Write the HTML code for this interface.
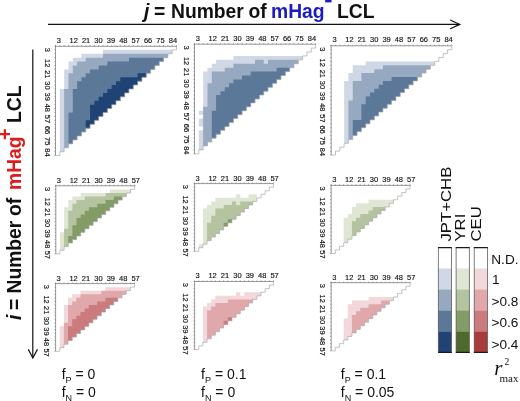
<!DOCTYPE html>
<html><head><meta charset="utf-8">
<style>
html,body{margin:0;padding:0;background:#fff;}
body{width:520px;height:401px;overflow:hidden;position:relative;}
svg{position:absolute;left:0;top:0;filter:blur(0.35px);}
.tl{font-family:"Liberation Sans",sans-serif;font-weight:normal;font-size:7.2px;fill:#111;stroke:#111;stroke-width:0.15px;text-anchor:middle;dominant-baseline:central;}
.tt{font-family:"Liberation Sans",sans-serif;font-weight:bold;font-size:19.3px;fill:#111;}
.lg{font-family:"Liberation Sans",sans-serif;font-size:14.7px;fill:#111;}
.ll{font-family:"Liberation Sans",sans-serif;font-size:13.6px;fill:#111;}
.fb{font-family:"Liberation Sans",sans-serif;font-size:14px;fill:#111;}
.fs{font-family:"Liberation Sans",sans-serif;font-size:9px;fill:#111;}
.rr{font-family:"Liberation Serif",serif;font-style:italic;fill:#111;}
</style></head><body>
<svg width="520" height="401" viewBox="0 0 520 401">
<!-- top title -->
<line x1="48" y1="24.4" x2="459.5" y2="24.4" stroke="#111" stroke-width="1.2"/>
<polyline points="450.2,20 459.8,24.4 450.2,28.8" fill="none" stroke="#111" stroke-width="1.2"/>
<text class="tt" x="144" y="17.8" font-style="italic">j</text>
<text class="tt" x="154" y="17.8">=</text>
<text class="tt" x="171" y="17.8">Number</text>
<text class="tt" x="248.5" y="17.8">of</text>
<text class="tt" x="271" y="17.8" style="fill:#1b1bc0">mHag</text>
<text class="tt" x="337" y="17.8">LCL</text>
<rect x="325.2" y="0" width="6.3" height="2.4" fill="#1b1bc0"/>
<!-- left title -->
<line x1="32.8" y1="49.5" x2="32.8" y2="357.5" stroke="#111" stroke-width="1.2"/>
<polyline points="28.3,349.4 32.8,358 37.5,349.4" fill="none" stroke="#111" stroke-width="1.2"/>
<g transform="translate(20.6 0) rotate(-90)">
<text class="tt" x="-320" y="0" font-style="italic">i</text>
<text class="tt" x="-310" y="0">=</text>
<text class="tt" x="-293.5" y="0">Number</text>
<text class="tt" x="-216" y="0">of</text>
<text class="tt" x="-190" y="0" style="fill:#e01b1b">mHag</text>
<text class="tt" x="-140" y="-8.3" style="fill:#e01b1b;font-size:20px">+</text>
<text class="tt" x="-123" y="0">LCL</text>
</g>
<path d="M103.04 49.82H172.18V53.74H103.04ZM81.43 53.74H167.86V57.65H81.43ZM72.79 57.65H163.54V61.57H72.79ZM68.46 61.57H159.21V65.49H68.46ZM68.46 65.49H154.89V69.41H68.46ZM64.14 69.41H150.57V73.32H64.14ZM64.14 73.32H146.25V77.24H64.14ZM64.14 77.24H141.93V81.16H64.14ZM64.14 81.16H137.61V85.08H64.14ZM64.14 85.08H133.29V89.00H64.14ZM59.82 89.00H128.96V92.91H59.82ZM59.82 92.91H124.64V96.83H59.82ZM59.82 96.83H120.32V100.75H59.82ZM59.82 100.75H116.00V104.67H59.82ZM59.82 104.67H111.68V108.59H59.82ZM59.82 108.59H107.36V112.50H59.82ZM59.82 112.50H103.04V116.42H59.82ZM59.82 116.42H98.71V120.34H59.82ZM59.82 120.34H94.39V124.26H59.82ZM59.82 124.26H90.07V128.17H59.82ZM59.82 128.17H85.75V132.09H59.82ZM59.82 132.09H81.43V136.01H59.82ZM59.82 136.01H77.11V139.93H59.82ZM59.82 139.93H72.79V143.85H59.82ZM59.82 143.85H68.46V147.76H59.82ZM59.82 147.76H64.14V151.68H59.82Z" fill="#cfd8e4"/>
<path d="M103.04 53.74H167.86V57.65H103.04ZM85.75 57.65H163.54V61.57H85.75ZM77.11 61.57H159.21V65.49H77.11ZM72.79 65.49H154.89V69.41H72.79ZM72.79 69.41H150.57V73.32H72.79ZM68.46 73.32H146.25V77.24H68.46ZM68.46 77.24H141.93V81.16H68.46ZM68.46 81.16H137.61V85.08H68.46ZM68.46 85.08H133.29V89.00H68.46ZM64.14 89.00H128.96V92.91H64.14ZM64.14 92.91H124.64V96.83H64.14ZM64.14 96.83H120.32V100.75H64.14ZM64.14 100.75H116.00V104.67H64.14ZM64.14 104.67H111.68V108.59H64.14ZM64.14 108.59H107.36V112.50H64.14ZM64.14 112.50H103.04V116.42H64.14ZM64.14 116.42H98.71V120.34H64.14ZM64.14 120.34H94.39V124.26H64.14ZM64.14 124.26H90.07V128.17H64.14ZM64.14 128.17H85.75V132.09H64.14ZM64.14 132.09H81.43V136.01H64.14ZM64.14 136.01H77.11V139.93H64.14ZM64.14 139.93H72.79V143.85H64.14ZM64.14 143.85H68.46V147.76H64.14Z" fill="#97a9c1"/>
<path d="M128.96 57.65H163.54V61.57H128.96ZM107.36 61.57H159.21V65.49H107.36ZM98.71 65.49H154.89V69.41H98.71ZM90.07 69.41H150.57V73.32H90.07ZM85.75 73.32H146.25V77.24H85.75ZM81.43 77.24H141.93V81.16H81.43ZM77.11 81.16H137.61V85.08H77.11ZM77.11 85.08H133.29V89.00H77.11ZM72.79 89.00H128.96V92.91H72.79ZM72.79 92.91H124.64V96.83H72.79ZM72.79 96.83H120.32V100.75H72.79ZM72.79 100.75H116.00V104.67H72.79ZM72.79 104.67H111.68V108.59H72.79ZM72.79 108.59H107.36V112.50H72.79ZM68.46 112.50H103.04V116.42H68.46ZM68.46 116.42H98.71V120.34H68.46ZM68.46 120.34H94.39V124.26H68.46ZM68.46 124.26H90.07V128.17H68.46ZM68.46 128.17H85.75V132.09H68.46ZM68.46 132.09H81.43V136.01H68.46ZM68.46 136.01H77.11V139.93H68.46ZM68.46 139.93H72.79V143.85H68.46Z" fill="#5c7898"/>
<path d="M137.61 73.32H146.25V77.24H137.61ZM120.32 77.24H141.93V81.16H120.32ZM116.00 81.16H137.61V85.08H116.00ZM111.68 85.08H133.29V89.00H111.68ZM107.36 89.00H128.96V92.91H107.36ZM103.04 92.91H124.64V96.83H103.04ZM98.71 96.83H120.32V100.75H98.71ZM94.39 100.75H116.00V104.67H94.39ZM90.07 104.67H111.68V108.59H90.07ZM90.07 108.59H107.36V112.50H90.07ZM90.07 112.50H103.04V116.42H90.07ZM90.07 116.42H98.71V120.34H90.07ZM85.75 120.34H94.39V124.26H85.75ZM85.75 124.26H90.07V128.17H85.75Z" fill="#1e4374"/>
<polyline points="176.50,45.90 176.50,49.82 172.18,49.82 172.18,53.74 167.86,53.74 167.86,57.65 163.54,57.65 163.54,61.57 159.21,61.57 159.21,65.49 154.89,65.49 154.89,69.41 150.57,69.41 150.57,73.32 146.25,73.32 146.25,77.24 141.93,77.24 141.93,81.16 137.61,81.16 137.61,85.08 133.29,85.08 133.29,89.00 128.96,89.00 128.96,92.91 124.64,92.91 124.64,96.83 120.32,96.83 120.32,100.75 116.00,100.75 116.00,104.67 111.68,104.67 111.68,108.59 107.36,108.59 107.36,112.50 103.04,112.50 103.04,116.42 98.71,116.42 98.71,120.34 94.39,120.34 94.39,124.26 90.07,124.26 90.07,128.17 85.75,128.17 85.75,132.09 81.43,132.09 81.43,136.01 77.11,136.01 77.11,139.93 72.79,139.93 72.79,143.85 68.46,143.85 68.46,147.76 64.14,147.76 64.14,151.68 59.82,151.68 59.82,155.60 55.50,155.60" fill="none" stroke="#ababab" stroke-width="0.7"/>
<line x1="55.00" y1="46.30" x2="176.50" y2="46.30" stroke="#8c8c8c" stroke-width="0.9"/>
<line x1="55.50" y1="45.40" x2="55.50" y2="155.60" stroke="#8c8c8c" stroke-width="0.9"/>
<path d="M55.50 46.30v-1.2M55.50 45.90h-1.2M59.82 46.30v-1.2M55.50 49.82h-1.2M64.14 46.30v-1.2M55.50 53.74h-1.2M68.46 46.30v-1.2M55.50 57.65h-1.2M72.79 46.30v-1.2M55.50 61.57h-1.2M77.11 46.30v-1.2M55.50 65.49h-1.2M81.43 46.30v-1.2M55.50 69.41h-1.2M85.75 46.30v-1.2M55.50 73.32h-1.2M90.07 46.30v-1.2M55.50 77.24h-1.2M94.39 46.30v-1.2M55.50 81.16h-1.2M98.71 46.30v-1.2M55.50 85.08h-1.2M103.04 46.30v-1.2M55.50 89.00h-1.2M107.36 46.30v-1.2M55.50 92.91h-1.2M111.68 46.30v-1.2M55.50 96.83h-1.2M116.00 46.30v-1.2M55.50 100.75h-1.2M120.32 46.30v-1.2M55.50 104.67h-1.2M124.64 46.30v-1.2M55.50 108.59h-1.2M128.96 46.30v-1.2M55.50 112.50h-1.2M133.29 46.30v-1.2M55.50 116.42h-1.2M137.61 46.30v-1.2M55.50 120.34h-1.2M141.93 46.30v-1.2M55.50 124.26h-1.2M146.25 46.30v-1.2M55.50 128.17h-1.2M150.57 46.30v-1.2M55.50 132.09h-1.2M154.89 46.30v-1.2M55.50 136.01h-1.2M159.21 46.30v-1.2M55.50 139.93h-1.2M163.54 46.30v-1.2M55.50 143.85h-1.2M167.86 46.30v-1.2M55.50 147.76h-1.2M172.18 46.30v-1.2M55.50 151.68h-1.2M176.50 46.30v-1.2M55.50 155.60h-1.2" stroke="#777" stroke-width="0.6" fill="none"/>
<text transform="translate(58.90 40.30) scale(1.04 1)" class="tl">3</text>
<text transform="translate(47.00 49.70) rotate(90) scale(1.04 1)" class="tl">3</text>
<text transform="translate(73.70 40.30) scale(1.04 1)" class="tl">12</text>
<text transform="translate(47.00 63.20) rotate(90) scale(1.04 1)" class="tl">12</text>
<text transform="translate(86.10 40.30) scale(1.04 1)" class="tl">21</text>
<text transform="translate(47.00 74.35) rotate(90) scale(1.04 1)" class="tl">21</text>
<text transform="translate(98.50 40.30) scale(1.04 1)" class="tl">30</text>
<text transform="translate(47.00 85.50) rotate(90) scale(1.04 1)" class="tl">30</text>
<text transform="translate(110.90 40.30) scale(1.04 1)" class="tl">39</text>
<text transform="translate(47.00 96.65) rotate(90) scale(1.04 1)" class="tl">39</text>
<text transform="translate(123.30 40.30) scale(1.04 1)" class="tl">48</text>
<text transform="translate(47.00 107.80) rotate(90) scale(1.04 1)" class="tl">48</text>
<text transform="translate(135.70 40.30) scale(1.04 1)" class="tl">57</text>
<text transform="translate(47.00 118.95) rotate(90) scale(1.04 1)" class="tl">57</text>
<text transform="translate(148.10 40.30) scale(1.04 1)" class="tl">66</text>
<text transform="translate(47.00 130.10) rotate(90) scale(1.04 1)" class="tl">66</text>
<text transform="translate(160.50 40.30) scale(1.04 1)" class="tl">75</text>
<text transform="translate(47.00 141.25) rotate(90) scale(1.04 1)" class="tl">75</text>
<text transform="translate(172.90 40.30) scale(1.04 1)" class="tl">84</text>
<text transform="translate(47.00 152.40) rotate(90) scale(1.04 1)" class="tl">84</text>
<path d="M233.43 55.94H302.62V59.86H233.43ZM216.12 59.86H298.30V63.77H216.12ZM211.80 63.77H293.98V67.69H211.80ZM207.47 67.69H289.65V71.60H207.47ZM203.15 71.60H285.33V75.51H203.15ZM203.15 75.51H281.00V79.43H203.15ZM203.15 79.43H276.68V83.34H203.15ZM203.15 83.34H272.35V87.26H203.15ZM203.15 87.26H268.03V91.17H203.15ZM203.15 91.17H263.70V95.09H203.15ZM203.15 95.09H259.38V99.00H203.15ZM203.15 99.00H255.05V102.91H203.15ZM203.15 102.91H250.73V106.83H203.15ZM203.15 106.83H246.40V110.74H203.15ZM198.82 110.74H242.08V114.66H198.82ZM203.15 114.66H237.75V118.57H203.15ZM198.82 118.57H233.43V122.49H198.82ZM198.82 122.49H229.10V126.40H198.82ZM203.15 126.40H224.78V130.31H203.15ZM198.82 130.31H220.45V134.23H198.82ZM198.82 134.23H216.12V138.14H198.82ZM198.82 138.14H211.80V142.06H198.82ZM198.82 142.06H207.47V145.97H198.82ZM198.82 145.97H203.15V149.89H198.82Z" fill="#cfd8e4"/>
<path d="M255.05 59.86H263.70V63.77H255.05ZM268.03 59.86H298.30V63.77H268.03ZM233.43 63.77H293.98V67.69H233.43ZM224.78 67.69H289.65V71.60H224.78ZM211.80 71.60H285.33V75.51H211.80ZM211.80 75.51H281.00V79.43H211.80ZM211.80 79.43H276.68V83.34H211.80ZM207.47 83.34H272.35V87.26H207.47ZM207.47 87.26H268.03V91.17H207.47ZM207.47 91.17H263.70V95.09H207.47ZM207.47 95.09H259.38V99.00H207.47ZM207.47 99.00H255.05V102.91H207.47ZM207.47 102.91H250.73V106.83H207.47ZM203.15 106.83H246.40V110.74H203.15ZM203.15 110.74H242.08V114.66H203.15ZM203.15 114.66H237.75V118.57H203.15ZM203.15 118.57H233.43V122.49H203.15ZM203.15 122.49H229.10V126.40H203.15ZM203.15 126.40H224.78V130.31H203.15ZM203.15 130.31H220.45V134.23H203.15ZM203.15 134.23H216.12V138.14H203.15ZM203.15 138.14H211.80V142.06H203.15ZM203.15 142.06H207.47V145.97H203.15Z" fill="#97a9c1"/>
<path d="M276.68 67.69H289.65V71.60H276.68ZM250.73 71.60H285.33V75.51H250.73ZM242.08 75.51H281.00V79.43H242.08ZM233.43 79.43H276.68V83.34H233.43ZM229.10 83.34H272.35V87.26H229.10ZM224.78 87.26H268.03V91.17H224.78ZM220.45 91.17H263.70V95.09H220.45ZM216.12 95.09H259.38V99.00H216.12ZM216.12 99.00H255.05V102.91H216.12ZM216.12 102.91H250.73V106.83H216.12ZM216.12 106.83H246.40V110.74H216.12ZM211.80 110.74H242.08V114.66H211.80ZM211.80 114.66H237.75V118.57H211.80ZM211.80 118.57H233.43V122.49H211.80ZM211.80 122.49H229.10V126.40H211.80ZM211.80 126.40H224.78V130.31H211.80ZM211.80 130.31H220.45V134.23H211.80ZM211.80 134.23H216.12V138.14H211.80Z" fill="#5c7898"/>
<polyline points="315.60,44.20 315.60,48.11 311.28,48.11 311.28,52.03 306.95,52.03 306.95,55.94 302.63,55.94 302.62,59.86 298.30,59.86 298.30,63.77 293.98,63.77 293.98,67.69 289.65,67.69 289.65,71.60 285.33,71.60 285.33,75.51 281.00,75.51 281.00,79.43 276.68,79.43 276.68,83.34 272.35,83.34 272.35,87.26 268.03,87.26 268.03,91.17 263.70,91.17 263.70,95.09 259.38,95.09 259.38,99.00 255.05,99.00 255.05,102.91 250.73,102.91 250.73,106.83 246.40,106.83 246.40,110.74 242.08,110.74 242.08,114.66 237.75,114.66 237.75,118.57 233.43,118.57 233.43,122.49 229.10,122.49 229.10,126.40 224.78,126.40 224.78,130.31 220.45,130.31 220.45,134.23 216.13,134.23 216.12,138.14 211.80,138.14 211.80,142.06 207.48,142.06 207.47,145.97 203.15,145.97 203.15,149.89 198.83,149.89 198.82,153.80 194.50,153.80" fill="none" stroke="#ababab" stroke-width="0.7"/>
<line x1="194.00" y1="44.20" x2="315.60" y2="44.20" stroke="#8c8c8c" stroke-width="0.9"/>
<line x1="194.50" y1="43.70" x2="194.50" y2="153.80" stroke="#8c8c8c" stroke-width="0.9"/>
<path d="M194.50 44.20v-1.2M194.50 44.20h-1.2M198.82 44.20v-1.2M194.50 48.11h-1.2M203.15 44.20v-1.2M194.50 52.03h-1.2M207.47 44.20v-1.2M194.50 55.94h-1.2M211.80 44.20v-1.2M194.50 59.86h-1.2M216.12 44.20v-1.2M194.50 63.77h-1.2M220.45 44.20v-1.2M194.50 67.69h-1.2M224.78 44.20v-1.2M194.50 71.60h-1.2M229.10 44.20v-1.2M194.50 75.51h-1.2M233.43 44.20v-1.2M194.50 79.43h-1.2M237.75 44.20v-1.2M194.50 83.34h-1.2M242.08 44.20v-1.2M194.50 87.26h-1.2M246.40 44.20v-1.2M194.50 91.17h-1.2M250.73 44.20v-1.2M194.50 95.09h-1.2M255.05 44.20v-1.2M194.50 99.00h-1.2M259.38 44.20v-1.2M194.50 102.91h-1.2M263.70 44.20v-1.2M194.50 106.83h-1.2M268.03 44.20v-1.2M194.50 110.74h-1.2M272.35 44.20v-1.2M194.50 114.66h-1.2M276.68 44.20v-1.2M194.50 118.57h-1.2M281.00 44.20v-1.2M194.50 122.49h-1.2M285.33 44.20v-1.2M194.50 126.40h-1.2M289.65 44.20v-1.2M194.50 130.31h-1.2M293.98 44.20v-1.2M194.50 134.23h-1.2M298.30 44.20v-1.2M194.50 138.14h-1.2M302.62 44.20v-1.2M194.50 142.06h-1.2M306.95 44.20v-1.2M194.50 145.97h-1.2M311.28 44.20v-1.2M194.50 149.89h-1.2M315.60 44.20v-1.2M194.50 153.80h-1.2" stroke="#777" stroke-width="0.6" fill="none"/>
<text transform="translate(197.90 38.20) scale(1.04 1)" class="tl">3</text>
<text transform="translate(186.00 47.60) rotate(90) scale(1.04 1)" class="tl">3</text>
<text transform="translate(212.70 38.20) scale(1.04 1)" class="tl">12</text>
<text transform="translate(186.00 61.10) rotate(90) scale(1.04 1)" class="tl">12</text>
<text transform="translate(225.10 38.20) scale(1.04 1)" class="tl">21</text>
<text transform="translate(186.00 72.25) rotate(90) scale(1.04 1)" class="tl">21</text>
<text transform="translate(237.50 38.20) scale(1.04 1)" class="tl">30</text>
<text transform="translate(186.00 83.40) rotate(90) scale(1.04 1)" class="tl">30</text>
<text transform="translate(249.90 38.20) scale(1.04 1)" class="tl">39</text>
<text transform="translate(186.00 94.55) rotate(90) scale(1.04 1)" class="tl">39</text>
<text transform="translate(262.30 38.20) scale(1.04 1)" class="tl">48</text>
<text transform="translate(186.00 105.70) rotate(90) scale(1.04 1)" class="tl">48</text>
<text transform="translate(274.70 38.20) scale(1.04 1)" class="tl">57</text>
<text transform="translate(186.00 116.85) rotate(90) scale(1.04 1)" class="tl">57</text>
<text transform="translate(287.10 38.20) scale(1.04 1)" class="tl">66</text>
<text transform="translate(186.00 128.00) rotate(90) scale(1.04 1)" class="tl">66</text>
<text transform="translate(299.50 38.20) scale(1.04 1)" class="tl">75</text>
<text transform="translate(186.00 139.15) rotate(90) scale(1.04 1)" class="tl">75</text>
<text transform="translate(311.90 38.20) scale(1.04 1)" class="tl">84</text>
<text transform="translate(186.00 150.30) rotate(90) scale(1.04 1)" class="tl">84</text>
<path d="M365.69 61.40H434.66V65.30H365.69ZM352.75 65.30H430.35V69.20H352.75ZM352.75 69.20H426.04V73.10H352.75ZM348.44 73.10H421.72V77.00H348.44ZM348.44 77.00H417.41V80.90H348.44ZM344.13 80.90H413.10V84.80H344.13ZM344.13 84.80H408.79V88.70H344.13ZM344.13 88.70H404.48V92.60H344.13ZM344.13 92.60H400.17V96.50H344.13ZM344.13 96.50H395.86V100.40H344.13ZM344.13 100.40H391.55V104.30H344.13ZM344.13 104.30H387.24V108.20H344.13ZM344.13 108.20H382.93V112.10H344.13ZM344.13 112.10H378.62V116.00H344.13ZM344.13 116.00H374.31V119.90H344.13ZM344.13 119.90H370.00V123.80H344.13ZM344.13 123.80H365.69V127.70H344.13ZM344.13 127.70H361.38V131.60H344.13ZM344.13 131.60H357.06V135.50H344.13ZM344.13 135.50H352.75V139.40H344.13ZM344.13 139.40H348.44V143.30H344.13Z" fill="#cfd8e4"/>
<path d="M382.93 65.30H430.35V69.20H382.93ZM374.31 69.20H426.04V73.10H374.31ZM361.38 73.10H421.72V77.00H361.38ZM361.38 77.00H417.41V80.90H361.38ZM352.75 80.90H413.10V84.80H352.75ZM352.75 84.80H408.79V88.70H352.75ZM352.75 88.70H404.48V92.60H352.75ZM352.75 92.60H400.17V96.50H352.75ZM352.75 96.50H395.86V100.40H352.75ZM348.44 100.40H391.55V104.30H348.44ZM348.44 104.30H387.24V108.20H348.44ZM348.44 108.20H382.93V112.10H348.44ZM348.44 112.10H378.62V116.00H348.44ZM348.44 116.00H374.31V119.90H348.44ZM348.44 119.90H370.00V123.80H348.44ZM348.44 123.80H365.69V127.70H348.44ZM348.44 127.70H361.38V131.60H348.44ZM348.44 131.60H357.06V135.50H348.44ZM348.44 135.50H352.75V139.40H348.44Z" fill="#97a9c1"/>
<path d="M391.55 77.00H417.41V80.90H391.55ZM382.93 80.90H413.10V84.80H382.93ZM378.62 84.80H408.79V88.70H378.62ZM374.31 88.70H404.48V92.60H374.31ZM370.00 92.60H400.17V96.50H370.00ZM365.69 96.50H395.86V100.40H365.69ZM365.69 100.40H391.55V104.30H365.69ZM361.38 104.30H387.24V108.20H361.38ZM361.38 108.20H382.93V112.10H361.38ZM361.38 112.10H378.62V116.00H361.38ZM361.38 116.00H374.31V119.90H361.38ZM352.75 119.90H370.00V123.80H352.75ZM352.75 123.80H365.69V127.70H352.75ZM352.75 127.70H361.38V131.60H352.75ZM352.75 131.60H357.06V135.50H352.75Z" fill="#5c7898"/>
<polyline points="451.90,45.80 451.90,49.70 447.59,49.70 447.59,53.60 443.28,53.60 443.28,57.50 438.97,57.50 438.97,61.40 434.66,61.40 434.66,65.30 430.35,65.30 430.35,69.20 426.04,69.20 426.04,73.10 421.72,73.10 421.72,77.00 417.41,77.00 417.41,80.90 413.10,80.90 413.10,84.80 408.79,84.80 408.79,88.70 404.48,88.70 404.48,92.60 400.17,92.60 400.17,96.50 395.86,96.50 395.86,100.40 391.55,100.40 391.55,104.30 387.24,104.30 387.24,108.20 382.93,108.20 382.93,112.10 378.62,112.10 378.62,116.00 374.31,116.00 374.31,119.90 370.00,119.90 370.00,123.80 365.69,123.80 365.69,127.70 361.37,127.70 361.38,131.60 357.06,131.60 357.06,135.50 352.75,135.50 352.75,139.40 348.44,139.40 348.44,143.30 344.13,143.30 344.13,147.20 339.82,147.20 339.82,151.10 335.51,151.10 335.51,155.00 331.20,155.00" fill="none" stroke="#ababab" stroke-width="0.7"/>
<line x1="330.70" y1="45.80" x2="451.90" y2="45.80" stroke="#8c8c8c" stroke-width="0.9"/>
<line x1="331.20" y1="45.30" x2="331.20" y2="155.00" stroke="#8c8c8c" stroke-width="0.9"/>
<path d="M331.20 45.80v-1.2M331.20 45.80h-1.2M335.51 45.80v-1.2M331.20 49.70h-1.2M339.82 45.80v-1.2M331.20 53.60h-1.2M344.13 45.80v-1.2M331.20 57.50h-1.2M348.44 45.80v-1.2M331.20 61.40h-1.2M352.75 45.80v-1.2M331.20 65.30h-1.2M357.06 45.80v-1.2M331.20 69.20h-1.2M361.38 45.80v-1.2M331.20 73.10h-1.2M365.69 45.80v-1.2M331.20 77.00h-1.2M370.00 45.80v-1.2M331.20 80.90h-1.2M374.31 45.80v-1.2M331.20 84.80h-1.2M378.62 45.80v-1.2M331.20 88.70h-1.2M382.93 45.80v-1.2M331.20 92.60h-1.2M387.24 45.80v-1.2M331.20 96.50h-1.2M391.55 45.80v-1.2M331.20 100.40h-1.2M395.86 45.80v-1.2M331.20 104.30h-1.2M400.17 45.80v-1.2M331.20 108.20h-1.2M404.48 45.80v-1.2M331.20 112.10h-1.2M408.79 45.80v-1.2M331.20 116.00h-1.2M413.10 45.80v-1.2M331.20 119.90h-1.2M417.41 45.80v-1.2M331.20 123.80h-1.2M421.72 45.80v-1.2M331.20 127.70h-1.2M426.04 45.80v-1.2M331.20 131.60h-1.2M430.35 45.80v-1.2M331.20 135.50h-1.2M434.66 45.80v-1.2M331.20 139.40h-1.2M438.97 45.80v-1.2M331.20 143.30h-1.2M443.28 45.80v-1.2M331.20 147.20h-1.2M447.59 45.80v-1.2M331.20 151.10h-1.2M451.90 45.80v-1.2M331.20 155.00h-1.2" stroke="#777" stroke-width="0.6" fill="none"/>
<text transform="translate(334.60 39.80) scale(1.04 1)" class="tl">3</text>
<text transform="translate(322.70 49.20) rotate(90) scale(1.04 1)" class="tl">3</text>
<text transform="translate(349.40 39.80) scale(1.04 1)" class="tl">12</text>
<text transform="translate(322.70 62.70) rotate(90) scale(1.04 1)" class="tl">12</text>
<text transform="translate(361.80 39.80) scale(1.04 1)" class="tl">21</text>
<text transform="translate(322.70 73.85) rotate(90) scale(1.04 1)" class="tl">21</text>
<text transform="translate(374.20 39.80) scale(1.04 1)" class="tl">30</text>
<text transform="translate(322.70 85.00) rotate(90) scale(1.04 1)" class="tl">30</text>
<text transform="translate(386.60 39.80) scale(1.04 1)" class="tl">39</text>
<text transform="translate(322.70 96.15) rotate(90) scale(1.04 1)" class="tl">39</text>
<text transform="translate(399.00 39.80) scale(1.04 1)" class="tl">48</text>
<text transform="translate(322.70 107.30) rotate(90) scale(1.04 1)" class="tl">48</text>
<text transform="translate(411.40 39.80) scale(1.04 1)" class="tl">57</text>
<text transform="translate(322.70 118.45) rotate(90) scale(1.04 1)" class="tl">57</text>
<text transform="translate(423.80 39.80) scale(1.04 1)" class="tl">66</text>
<text transform="translate(322.70 129.60) rotate(90) scale(1.04 1)" class="tl">66</text>
<text transform="translate(436.20 39.80) scale(1.04 1)" class="tl">75</text>
<text transform="translate(322.70 140.75) rotate(90) scale(1.04 1)" class="tl">75</text>
<text transform="translate(448.60 39.80) scale(1.04 1)" class="tl">84</text>
<text transform="translate(322.70 151.90) rotate(90) scale(1.04 1)" class="tl">84</text>
<path d="M109.75 189.38H130.50V192.96H109.75ZM80.70 192.96H126.35V196.54H80.70ZM72.40 196.54H122.20V200.12H72.40ZM68.25 200.12H118.05V203.69H68.25ZM68.25 203.69H113.90V207.27H68.25ZM64.10 207.27H109.75V210.85H64.10ZM64.10 210.85H105.60V214.43H64.10ZM64.10 214.43H101.45V218.01H64.10ZM64.10 218.01H97.30V221.59H64.10ZM64.10 221.59H93.15V225.17H64.10ZM64.10 225.17H89.00V228.75H64.10ZM64.10 228.75H84.85V232.33H64.10ZM59.95 232.33H80.70V235.91H59.95ZM59.95 235.91H76.55V239.48H59.95ZM59.95 239.48H72.40V243.06H59.95ZM59.95 243.06H68.25V246.64H59.95ZM59.95 246.64H64.10V250.22H59.95Z" fill="#e0e6d4"/>
<path d="M105.60 192.96H126.35V196.54H105.60ZM84.85 196.54H122.20V200.12H84.85ZM76.55 200.12H118.05V203.69H76.55ZM72.40 203.69H113.90V207.27H72.40ZM72.40 207.27H109.75V210.85H72.40ZM68.25 210.85H105.60V214.43H68.25ZM68.25 214.43H101.45V218.01H68.25ZM68.25 218.01H97.30V221.59H68.25ZM68.25 221.59H93.15V225.17H68.25ZM68.25 225.17H89.00V228.75H68.25ZM64.10 228.75H84.85V232.33H64.10ZM64.10 232.33H80.70V235.91H64.10ZM64.10 235.91H76.55V239.48H64.10ZM64.10 239.48H72.40V243.06H64.10ZM64.10 243.06H68.25V246.64H64.10Z" fill="#b4c3a0"/>
<path d="M113.90 196.54H122.20V200.12H113.90ZM105.60 200.12H118.05V203.69H105.60ZM97.30 203.69H113.90V207.27H97.30ZM89.00 207.27H109.75V210.85H89.00ZM84.85 210.85H105.60V214.43H84.85ZM80.70 214.43H101.45V218.01H80.70ZM76.55 218.01H97.30V221.59H76.55ZM76.55 221.59H93.15V225.17H76.55ZM72.40 225.17H89.00V228.75H72.40ZM72.40 228.75H84.85V232.33H72.40ZM72.40 232.33H80.70V235.91H72.40ZM68.25 235.91H76.55V239.48H68.25ZM68.25 239.48H72.40V243.06H68.25Z" fill="#839b64"/>
<polyline points="134.65,185.80 134.65,189.38 130.50,189.38 130.50,192.96 126.35,192.96 126.35,196.54 122.20,196.54 122.20,200.12 118.05,200.12 118.05,203.69 113.90,203.69 113.90,207.27 109.75,207.27 109.75,210.85 105.60,210.85 105.60,214.43 101.45,214.43 101.45,218.01 97.30,218.01 97.30,221.59 93.15,221.59 93.15,225.17 89.00,225.17 89.00,228.75 84.85,228.75 84.85,232.33 80.70,232.33 80.70,235.91 76.55,235.91 76.55,239.48 72.40,239.48 72.40,243.06 68.25,243.06 68.25,246.64 64.10,246.64 64.10,250.22 59.95,250.22 59.95,253.80 55.80,253.80" fill="none" stroke="#ababab" stroke-width="0.7"/>
<line x1="55.30" y1="185.80" x2="135.40" y2="185.80" stroke="#8c8c8c" stroke-width="0.9"/>
<line x1="55.80" y1="185.30" x2="55.80" y2="253.80" stroke="#8c8c8c" stroke-width="0.9"/>
<path d="M55.80 185.80v-1.2M55.80 185.80h-1.2M59.95 185.80v-1.2M55.80 189.38h-1.2M64.10 185.80v-1.2M55.80 192.96h-1.2M68.25 185.80v-1.2M55.80 196.54h-1.2M72.40 185.80v-1.2M55.80 200.12h-1.2M76.55 185.80v-1.2M55.80 203.69h-1.2M80.70 185.80v-1.2M55.80 207.27h-1.2M84.85 185.80v-1.2M55.80 210.85h-1.2M89.00 185.80v-1.2M55.80 214.43h-1.2M93.15 185.80v-1.2M55.80 218.01h-1.2M97.30 185.80v-1.2M55.80 221.59h-1.2M101.45 185.80v-1.2M55.80 225.17h-1.2M105.60 185.80v-1.2M55.80 228.75h-1.2M109.75 185.80v-1.2M55.80 232.33h-1.2M113.90 185.80v-1.2M55.80 235.91h-1.2M118.05 185.80v-1.2M55.80 239.48h-1.2M122.20 185.80v-1.2M55.80 243.06h-1.2M126.35 185.80v-1.2M55.80 246.64h-1.2M130.50 185.80v-1.2M55.80 250.22h-1.2M134.65 185.80v-1.2M55.80 253.80h-1.2" stroke="#777" stroke-width="0.6" fill="none"/>
<text transform="translate(58.80 180.30) scale(1.04 1)" class="tl">3</text>
<text transform="translate(47.00 189.00) rotate(90) scale(1.04 1)" class="tl">3</text>
<text transform="translate(73.80 180.30) scale(1.04 1)" class="tl">12</text>
<text transform="translate(47.00 201.80) rotate(90) scale(1.04 1)" class="tl">12</text>
<text transform="translate(86.20 180.30) scale(1.04 1)" class="tl">21</text>
<text transform="translate(47.00 212.40) rotate(90) scale(1.04 1)" class="tl">21</text>
<text transform="translate(98.60 180.30) scale(1.04 1)" class="tl">30</text>
<text transform="translate(47.00 223.00) rotate(90) scale(1.04 1)" class="tl">30</text>
<text transform="translate(111.00 180.30) scale(1.04 1)" class="tl">39</text>
<text transform="translate(47.00 233.60) rotate(90) scale(1.04 1)" class="tl">39</text>
<text transform="translate(123.40 180.30) scale(1.04 1)" class="tl">48</text>
<text transform="translate(47.00 244.20) rotate(90) scale(1.04 1)" class="tl">48</text>
<text transform="translate(135.80 180.30) scale(1.04 1)" class="tl">57</text>
<text transform="translate(47.00 254.80) rotate(90) scale(1.04 1)" class="tl">57</text>
<path d="M236.10 194.29H240.25V197.85H236.10ZM248.55 194.29H256.85V197.85H248.55ZM215.35 197.85H256.85V201.42H215.35ZM211.20 201.42H252.70V204.98H211.20ZM207.05 204.98H248.55V208.54H207.05ZM202.90 208.54H244.40V212.11H202.90ZM202.90 212.11H240.25V215.67H202.90ZM202.90 215.67H236.10V219.23H202.90ZM202.90 219.23H231.95V222.79H202.90ZM202.90 222.79H227.80V226.36H202.90ZM202.90 226.36H223.65V229.92H202.90ZM202.90 229.92H219.50V233.48H202.90ZM202.90 233.48H215.35V237.05H202.90ZM202.90 237.05H211.20V240.61H202.90ZM202.90 240.61H207.05V244.17H202.90ZM198.75 244.17H202.90V247.74H198.75Z" fill="#e0e6d4"/>
<path d="M231.95 201.42H236.10V204.98H231.95ZM240.25 201.42H252.70V204.98H240.25ZM223.65 204.98H248.55V208.54H223.65ZM215.35 208.54H244.40V212.11H215.35ZM215.35 212.11H240.25V215.67H215.35ZM211.20 215.67H236.10V219.23H211.20ZM211.20 219.23H231.95V222.79H211.20ZM207.05 222.79H227.80V226.36H207.05ZM207.05 226.36H223.65V229.92H207.05ZM207.05 229.92H219.50V233.48H207.05ZM207.05 233.48H215.35V237.05H207.05ZM207.05 237.05H211.20V240.61H207.05Z" fill="#b4c3a0"/>
<path d="M227.80 219.23H231.95V222.79H227.80ZM223.65 222.79H227.80V226.36H223.65Z" fill="#839b64"/>
<polyline points="273.45,183.60 273.45,187.16 269.30,187.16 269.30,190.73 265.15,190.73 265.15,194.29 261.00,194.29 261.00,197.85 256.85,197.85 256.85,201.42 252.70,201.42 252.70,204.98 248.55,204.98 248.55,208.54 244.40,208.54 244.40,212.11 240.25,212.11 240.25,215.67 236.10,215.67 236.10,219.23 231.95,219.23 231.95,222.79 227.80,222.79 227.80,226.36 223.65,226.36 223.65,229.92 219.50,229.92 219.50,233.48 215.35,233.48 215.35,237.05 211.20,237.05 211.20,240.61 207.05,240.61 207.05,244.17 202.90,244.17 202.90,247.74 198.75,247.74 198.75,251.30 194.60,251.30" fill="none" stroke="#ababab" stroke-width="0.7"/>
<line x1="194.10" y1="183.60" x2="273.70" y2="183.60" stroke="#8c8c8c" stroke-width="0.9"/>
<line x1="194.60" y1="183.10" x2="194.60" y2="251.30" stroke="#8c8c8c" stroke-width="0.9"/>
<path d="M194.60 183.60v-1.2M194.60 183.60h-1.2M198.75 183.60v-1.2M194.60 187.16h-1.2M202.90 183.60v-1.2M194.60 190.73h-1.2M207.05 183.60v-1.2M194.60 194.29h-1.2M211.20 183.60v-1.2M194.60 197.85h-1.2M215.35 183.60v-1.2M194.60 201.42h-1.2M219.50 183.60v-1.2M194.60 204.98h-1.2M223.65 183.60v-1.2M194.60 208.54h-1.2M227.80 183.60v-1.2M194.60 212.11h-1.2M231.95 183.60v-1.2M194.60 215.67h-1.2M236.10 183.60v-1.2M194.60 219.23h-1.2M240.25 183.60v-1.2M194.60 222.79h-1.2M244.40 183.60v-1.2M194.60 226.36h-1.2M248.55 183.60v-1.2M194.60 229.92h-1.2M252.70 183.60v-1.2M194.60 233.48h-1.2M256.85 183.60v-1.2M194.60 237.05h-1.2M261.00 183.60v-1.2M194.60 240.61h-1.2M265.15 183.60v-1.2M194.60 244.17h-1.2M269.30 183.60v-1.2M194.60 247.74h-1.2M273.45 183.60v-1.2M194.60 251.30h-1.2" stroke="#777" stroke-width="0.6" fill="none"/>
<text transform="translate(197.60 178.10) scale(1.04 1)" class="tl">3</text>
<text transform="translate(185.80 186.80) rotate(90) scale(1.04 1)" class="tl">3</text>
<text transform="translate(212.60 178.10) scale(1.04 1)" class="tl">12</text>
<text transform="translate(185.80 199.60) rotate(90) scale(1.04 1)" class="tl">12</text>
<text transform="translate(225.00 178.10) scale(1.04 1)" class="tl">21</text>
<text transform="translate(185.80 210.20) rotate(90) scale(1.04 1)" class="tl">21</text>
<text transform="translate(237.40 178.10) scale(1.04 1)" class="tl">30</text>
<text transform="translate(185.80 220.80) rotate(90) scale(1.04 1)" class="tl">30</text>
<text transform="translate(249.80 178.10) scale(1.04 1)" class="tl">39</text>
<text transform="translate(185.80 231.40) rotate(90) scale(1.04 1)" class="tl">39</text>
<text transform="translate(262.20 178.10) scale(1.04 1)" class="tl">48</text>
<text transform="translate(185.80 242.00) rotate(90) scale(1.04 1)" class="tl">48</text>
<text transform="translate(274.60 178.10) scale(1.04 1)" class="tl">57</text>
<text transform="translate(185.80 252.60) rotate(90) scale(1.04 1)" class="tl">57</text>
<path d="M368.55 199.74H393.45V203.32H368.55ZM356.10 203.32H389.30V206.91H356.10ZM351.95 206.91H385.15V210.49H351.95ZM351.95 210.49H381.00V214.07H351.95ZM347.80 214.07H376.85V217.66H347.80ZM343.65 217.66H372.70V221.24H343.65ZM343.65 221.24H368.55V224.83H343.65ZM343.65 224.83H364.40V228.41H343.65ZM343.65 228.41H360.25V231.99H343.65ZM343.65 231.99H356.10V235.58H343.65ZM343.65 235.58H351.95V239.16H343.65ZM343.65 239.16H347.80V242.75H343.65Z" fill="#e0e6d4"/>
<path d="M372.70 206.91H385.15V210.49H372.70ZM368.55 210.49H381.00V214.07H368.55ZM360.25 214.07H376.85V217.66H360.25ZM356.10 217.66H372.70V221.24H356.10ZM351.95 221.24H368.55V224.83H351.95ZM351.95 224.83H364.40V228.41H351.95ZM351.95 228.41H360.25V231.99H351.95ZM351.95 231.99H356.10V235.58H351.95Z" fill="#b4c3a0"/>
<polyline points="410.05,185.40 410.05,188.98 405.90,188.98 405.90,192.57 401.75,192.57 401.75,196.15 397.60,196.15 397.60,199.74 393.45,199.74 393.45,203.32 389.30,203.32 389.30,206.91 385.15,206.91 385.15,210.49 381.00,210.49 381.00,214.07 376.85,214.07 376.85,217.66 372.70,217.66 372.70,221.24 368.55,221.24 368.55,224.83 364.40,224.83 364.40,228.41 360.25,228.41 360.25,231.99 356.10,231.99 356.10,235.58 351.95,235.58 351.95,239.16 347.80,239.16 347.80,242.75 343.65,242.75 343.65,246.33 339.50,246.33 339.50,249.92 335.35,249.92 335.35,253.50 331.20,253.50" fill="none" stroke="#ababab" stroke-width="0.7"/>
<line x1="330.70" y1="185.40" x2="410.80" y2="185.40" stroke="#8c8c8c" stroke-width="0.9"/>
<line x1="331.20" y1="184.90" x2="331.20" y2="253.50" stroke="#8c8c8c" stroke-width="0.9"/>
<path d="M331.20 185.40v-1.2M331.20 185.40h-1.2M335.35 185.40v-1.2M331.20 188.98h-1.2M339.50 185.40v-1.2M331.20 192.57h-1.2M343.65 185.40v-1.2M331.20 196.15h-1.2M347.80 185.40v-1.2M331.20 199.74h-1.2M351.95 185.40v-1.2M331.20 203.32h-1.2M356.10 185.40v-1.2M331.20 206.91h-1.2M360.25 185.40v-1.2M331.20 210.49h-1.2M364.40 185.40v-1.2M331.20 214.07h-1.2M368.55 185.40v-1.2M331.20 217.66h-1.2M372.70 185.40v-1.2M331.20 221.24h-1.2M376.85 185.40v-1.2M331.20 224.83h-1.2M381.00 185.40v-1.2M331.20 228.41h-1.2M385.15 185.40v-1.2M331.20 231.99h-1.2M389.30 185.40v-1.2M331.20 235.58h-1.2M393.45 185.40v-1.2M331.20 239.16h-1.2M397.60 185.40v-1.2M331.20 242.75h-1.2M401.75 185.40v-1.2M331.20 246.33h-1.2M405.90 185.40v-1.2M331.20 249.92h-1.2M410.05 185.40v-1.2M331.20 253.50h-1.2" stroke="#777" stroke-width="0.6" fill="none"/>
<text transform="translate(334.20 179.90) scale(1.04 1)" class="tl">3</text>
<text transform="translate(322.40 188.60) rotate(90) scale(1.04 1)" class="tl">3</text>
<text transform="translate(349.20 179.90) scale(1.04 1)" class="tl">12</text>
<text transform="translate(322.40 201.40) rotate(90) scale(1.04 1)" class="tl">12</text>
<text transform="translate(361.60 179.90) scale(1.04 1)" class="tl">21</text>
<text transform="translate(322.40 212.00) rotate(90) scale(1.04 1)" class="tl">21</text>
<text transform="translate(374.00 179.90) scale(1.04 1)" class="tl">30</text>
<text transform="translate(322.40 222.60) rotate(90) scale(1.04 1)" class="tl">30</text>
<text transform="translate(386.40 179.90) scale(1.04 1)" class="tl">39</text>
<text transform="translate(322.40 233.20) rotate(90) scale(1.04 1)" class="tl">39</text>
<text transform="translate(398.80 179.90) scale(1.04 1)" class="tl">48</text>
<text transform="translate(322.40 243.80) rotate(90) scale(1.04 1)" class="tl">48</text>
<text transform="translate(411.20 179.90) scale(1.04 1)" class="tl">57</text>
<text transform="translate(322.40 254.40) rotate(90) scale(1.04 1)" class="tl">57</text>
<path d="M105.40 287.16H130.30V290.73H105.40ZM80.50 290.73H126.15V294.29H80.50ZM72.20 294.29H122.00V297.85H72.20ZM68.05 297.85H117.85V301.42H68.05ZM68.05 301.42H113.70V304.98H68.05ZM63.90 304.98H109.55V308.54H63.90ZM63.90 308.54H105.40V312.11H63.90ZM63.90 312.11H101.25V315.67H63.90ZM63.90 315.67H97.10V319.23H63.90ZM63.90 319.23H92.95V322.79H63.90ZM63.90 322.79H88.80V326.36H63.90ZM59.75 326.36H84.65V329.92H59.75ZM59.75 329.92H80.50V333.48H59.75ZM59.75 333.48H76.35V337.05H59.75ZM59.75 337.05H72.20V340.61H59.75ZM59.75 340.61H68.05V344.17H59.75ZM59.75 344.17H63.90V347.74H59.75Z" fill="#f2d8da"/>
<path d="M101.25 290.73H126.15V294.29H101.25ZM80.50 294.29H122.00V297.85H80.50ZM76.35 297.85H117.85V301.42H76.35ZM72.20 301.42H113.70V304.98H72.20ZM68.05 304.98H109.55V308.54H68.05ZM68.05 308.54H105.40V312.11H68.05ZM68.05 312.11H101.25V315.67H68.05ZM68.05 315.67H97.10V319.23H68.05ZM68.05 319.23H92.95V322.79H68.05ZM63.90 322.79H88.80V326.36H63.90ZM63.90 326.36H84.65V329.92H63.90ZM63.90 329.92H80.50V333.48H63.90ZM63.90 333.48H76.35V337.05H63.90ZM63.90 337.05H72.20V340.61H63.90ZM63.90 340.61H68.05V344.17H63.90Z" fill="#e0a8ab"/>
<path d="M105.40 297.85H117.85V301.42H105.40ZM97.10 301.42H113.70V304.98H97.10ZM88.80 304.98H109.55V308.54H88.80ZM84.65 308.54H105.40V312.11H84.65ZM80.50 312.11H101.25V315.67H80.50ZM76.35 315.67H97.10V319.23H76.35ZM72.20 319.23H92.95V322.79H72.20ZM72.20 322.79H88.80V326.36H72.20ZM68.05 326.36H84.65V329.92H68.05ZM68.05 329.92H80.50V333.48H68.05ZM68.05 333.48H76.35V337.05H68.05ZM68.05 337.05H72.20V340.61H68.05Z" fill="#cb7a7d"/>
<polyline points="134.45,283.60 134.45,287.16 130.30,287.16 130.30,290.73 126.15,290.73 126.15,294.29 122.00,294.29 122.00,297.85 117.85,297.85 117.85,301.42 113.70,301.42 113.70,304.98 109.55,304.98 109.55,308.54 105.40,308.54 105.40,312.11 101.25,312.11 101.25,315.67 97.10,315.67 97.10,319.23 92.95,319.23 92.95,322.79 88.80,322.79 88.80,326.36 84.65,326.36 84.65,329.92 80.50,329.92 80.50,333.48 76.35,333.48 76.35,337.05 72.20,337.05 72.20,340.61 68.05,340.61 68.05,344.17 63.90,344.17 63.90,347.74 59.75,347.74 59.75,351.30 55.60,351.30" fill="none" stroke="#ababab" stroke-width="0.7"/>
<line x1="55.10" y1="283.60" x2="135.00" y2="283.60" stroke="#8c8c8c" stroke-width="0.9"/>
<line x1="55.60" y1="283.10" x2="55.60" y2="351.30" stroke="#8c8c8c" stroke-width="0.9"/>
<path d="M55.60 283.60v-1.2M55.60 283.60h-1.2M59.75 283.60v-1.2M55.60 287.16h-1.2M63.90 283.60v-1.2M55.60 290.73h-1.2M68.05 283.60v-1.2M55.60 294.29h-1.2M72.20 283.60v-1.2M55.60 297.85h-1.2M76.35 283.60v-1.2M55.60 301.42h-1.2M80.50 283.60v-1.2M55.60 304.98h-1.2M84.65 283.60v-1.2M55.60 308.54h-1.2M88.80 283.60v-1.2M55.60 312.11h-1.2M92.95 283.60v-1.2M55.60 315.67h-1.2M97.10 283.60v-1.2M55.60 319.23h-1.2M101.25 283.60v-1.2M55.60 322.79h-1.2M105.40 283.60v-1.2M55.60 326.36h-1.2M109.55 283.60v-1.2M55.60 329.92h-1.2M113.70 283.60v-1.2M55.60 333.48h-1.2M117.85 283.60v-1.2M55.60 337.05h-1.2M122.00 283.60v-1.2M55.60 340.61h-1.2M126.15 283.60v-1.2M55.60 344.17h-1.2M130.30 283.60v-1.2M55.60 347.74h-1.2M134.45 283.60v-1.2M55.60 351.30h-1.2" stroke="#777" stroke-width="0.6" fill="none"/>
<text transform="translate(58.60 278.10) scale(1.04 1)" class="tl">3</text>
<text transform="translate(46.80 286.80) rotate(90) scale(1.04 1)" class="tl">3</text>
<text transform="translate(73.60 278.10) scale(1.04 1)" class="tl">12</text>
<text transform="translate(46.80 299.60) rotate(90) scale(1.04 1)" class="tl">12</text>
<text transform="translate(86.00 278.10) scale(1.04 1)" class="tl">21</text>
<text transform="translate(46.80 310.20) rotate(90) scale(1.04 1)" class="tl">21</text>
<text transform="translate(98.40 278.10) scale(1.04 1)" class="tl">30</text>
<text transform="translate(46.80 320.80) rotate(90) scale(1.04 1)" class="tl">30</text>
<text transform="translate(110.80 278.10) scale(1.04 1)" class="tl">39</text>
<text transform="translate(46.80 331.40) rotate(90) scale(1.04 1)" class="tl">39</text>
<text transform="translate(123.20 278.10) scale(1.04 1)" class="tl">48</text>
<text transform="translate(46.80 342.00) rotate(90) scale(1.04 1)" class="tl">48</text>
<text transform="translate(135.60 278.10) scale(1.04 1)" class="tl">57</text>
<text transform="translate(46.80 352.60) rotate(90) scale(1.04 1)" class="tl">57</text>
<path d="M236.10 292.24H240.25V295.82H236.10ZM244.40 292.24H261.00V295.82H244.40ZM215.35 295.82H256.85V299.39H215.35ZM211.20 299.39H252.70V302.97H211.20ZM207.05 302.97H248.55V306.55H207.05ZM202.90 306.55H244.40V310.13H202.90ZM202.90 310.13H240.25V313.71H202.90ZM202.90 313.71H236.10V317.29H202.90ZM202.90 317.29H231.95V320.87H202.90ZM202.90 320.87H227.80V324.45H202.90ZM202.90 324.45H223.65V328.03H202.90ZM202.90 328.03H219.50V331.61H202.90ZM202.90 331.61H215.35V335.18H202.90ZM202.90 335.18H211.20V338.76H202.90ZM202.90 338.76H207.05V342.34H202.90Z" fill="#f2d8da"/>
<path d="M227.80 299.39H252.70V302.97H227.80ZM215.35 302.97H248.55V306.55H215.35ZM211.20 306.55H244.40V310.13H211.20ZM207.05 310.13H240.25V313.71H207.05ZM207.05 313.71H236.10V317.29H207.05ZM207.05 317.29H231.95V320.87H207.05ZM207.05 320.87H227.80V324.45H207.05ZM207.05 324.45H223.65V328.03H207.05ZM207.05 328.03H219.50V331.61H207.05ZM207.05 331.61H215.35V335.18H207.05ZM207.05 335.18H211.20V338.76H207.05Z" fill="#e0a8ab"/>
<path d="M227.80 317.29H231.95V320.87H227.80ZM223.65 320.87H227.80V324.45H223.65Z" fill="#cb7a7d"/>
<polyline points="273.45,281.50 273.45,285.08 269.30,285.08 269.30,288.66 265.15,288.66 265.15,292.24 261.00,292.24 261.00,295.82 256.85,295.82 256.85,299.39 252.70,299.39 252.70,302.97 248.55,302.97 248.55,306.55 244.40,306.55 244.40,310.13 240.25,310.13 240.25,313.71 236.10,313.71 236.10,317.29 231.95,317.29 231.95,320.87 227.80,320.87 227.80,324.45 223.65,324.45 223.65,328.03 219.50,328.03 219.50,331.61 215.35,331.61 215.35,335.18 211.20,335.18 211.20,338.76 207.05,338.76 207.05,342.34 202.90,342.34 202.90,345.92 198.75,345.92 198.75,349.50 194.60,349.50" fill="none" stroke="#ababab" stroke-width="0.7"/>
<line x1="194.10" y1="281.50" x2="273.50" y2="281.50" stroke="#8c8c8c" stroke-width="0.9"/>
<line x1="194.60" y1="281.00" x2="194.60" y2="349.50" stroke="#8c8c8c" stroke-width="0.9"/>
<path d="M194.60 281.50v-1.2M194.60 281.50h-1.2M198.75 281.50v-1.2M194.60 285.08h-1.2M202.90 281.50v-1.2M194.60 288.66h-1.2M207.05 281.50v-1.2M194.60 292.24h-1.2M211.20 281.50v-1.2M194.60 295.82h-1.2M215.35 281.50v-1.2M194.60 299.39h-1.2M219.50 281.50v-1.2M194.60 302.97h-1.2M223.65 281.50v-1.2M194.60 306.55h-1.2M227.80 281.50v-1.2M194.60 310.13h-1.2M231.95 281.50v-1.2M194.60 313.71h-1.2M236.10 281.50v-1.2M194.60 317.29h-1.2M240.25 281.50v-1.2M194.60 320.87h-1.2M244.40 281.50v-1.2M194.60 324.45h-1.2M248.55 281.50v-1.2M194.60 328.03h-1.2M252.70 281.50v-1.2M194.60 331.61h-1.2M256.85 281.50v-1.2M194.60 335.18h-1.2M261.00 281.50v-1.2M194.60 338.76h-1.2M265.15 281.50v-1.2M194.60 342.34h-1.2M269.30 281.50v-1.2M194.60 345.92h-1.2M273.45 281.50v-1.2M194.60 349.50h-1.2" stroke="#777" stroke-width="0.6" fill="none"/>
<text transform="translate(197.60 276.00) scale(1.04 1)" class="tl">3</text>
<text transform="translate(185.80 284.70) rotate(90) scale(1.04 1)" class="tl">3</text>
<text transform="translate(212.60 276.00) scale(1.04 1)" class="tl">12</text>
<text transform="translate(185.80 297.50) rotate(90) scale(1.04 1)" class="tl">12</text>
<text transform="translate(225.00 276.00) scale(1.04 1)" class="tl">21</text>
<text transform="translate(185.80 308.10) rotate(90) scale(1.04 1)" class="tl">21</text>
<text transform="translate(237.40 276.00) scale(1.04 1)" class="tl">30</text>
<text transform="translate(185.80 318.70) rotate(90) scale(1.04 1)" class="tl">30</text>
<text transform="translate(249.80 276.00) scale(1.04 1)" class="tl">39</text>
<text transform="translate(185.80 329.30) rotate(90) scale(1.04 1)" class="tl">39</text>
<text transform="translate(262.20 276.00) scale(1.04 1)" class="tl">48</text>
<text transform="translate(185.80 339.90) rotate(90) scale(1.04 1)" class="tl">48</text>
<text transform="translate(274.60 276.00) scale(1.04 1)" class="tl">57</text>
<text transform="translate(185.80 350.50) rotate(90) scale(1.04 1)" class="tl">57</text>
<path d="M368.55 297.04H393.45V300.62H368.55ZM351.95 300.62H389.30V304.21H351.95ZM347.80 304.21H385.15V307.79H347.80ZM347.80 307.79H381.00V311.37H347.80ZM347.80 311.37H376.85V314.96H347.80ZM347.80 314.96H372.70V318.54H347.80ZM343.65 318.54H368.55V322.13H343.65ZM343.65 322.13H364.40V325.71H343.65ZM343.65 325.71H360.25V329.29H343.65ZM343.65 329.29H356.10V332.88H343.65ZM343.65 332.88H351.95V336.46H343.65ZM343.65 336.46H347.80V340.05H343.65Z" fill="#f2d8da"/>
<path d="M381.00 300.62H389.30V304.21H381.00ZM368.55 304.21H385.15V307.79H368.55ZM360.25 307.79H381.00V311.37H360.25ZM356.10 311.37H376.85V314.96H356.10ZM351.95 314.96H372.70V318.54H351.95ZM351.95 318.54H368.55V322.13H351.95ZM351.95 322.13H364.40V325.71H351.95ZM351.95 325.71H360.25V329.29H351.95ZM351.95 329.29H356.10V332.88H351.95Z" fill="#e0a8ab"/>
<polyline points="410.05,282.70 410.05,286.28 405.90,286.28 405.90,289.87 401.75,289.87 401.75,293.45 397.60,293.45 397.60,297.04 393.45,297.04 393.45,300.62 389.30,300.62 389.30,304.21 385.15,304.21 385.15,307.79 381.00,307.79 381.00,311.37 376.85,311.37 376.85,314.96 372.70,314.96 372.70,318.54 368.55,318.54 368.55,322.13 364.40,322.13 364.40,325.71 360.25,325.71 360.25,329.29 356.10,329.29 356.10,332.88 351.95,332.88 351.95,336.46 347.80,336.46 347.80,340.05 343.65,340.05 343.65,343.63 339.50,343.63 339.50,347.22 335.35,347.22 335.35,350.80 331.20,350.80" fill="none" stroke="#ababab" stroke-width="0.7"/>
<line x1="330.70" y1="282.70" x2="410.40" y2="282.70" stroke="#8c8c8c" stroke-width="0.9"/>
<line x1="331.20" y1="282.20" x2="331.20" y2="350.80" stroke="#8c8c8c" stroke-width="0.9"/>
<path d="M331.20 282.70v-1.2M331.20 282.70h-1.2M335.35 282.70v-1.2M331.20 286.28h-1.2M339.50 282.70v-1.2M331.20 289.87h-1.2M343.65 282.70v-1.2M331.20 293.45h-1.2M347.80 282.70v-1.2M331.20 297.04h-1.2M351.95 282.70v-1.2M331.20 300.62h-1.2M356.10 282.70v-1.2M331.20 304.21h-1.2M360.25 282.70v-1.2M331.20 307.79h-1.2M364.40 282.70v-1.2M331.20 311.37h-1.2M368.55 282.70v-1.2M331.20 314.96h-1.2M372.70 282.70v-1.2M331.20 318.54h-1.2M376.85 282.70v-1.2M331.20 322.13h-1.2M381.00 282.70v-1.2M331.20 325.71h-1.2M385.15 282.70v-1.2M331.20 329.29h-1.2M389.30 282.70v-1.2M331.20 332.88h-1.2M393.45 282.70v-1.2M331.20 336.46h-1.2M397.60 282.70v-1.2M331.20 340.05h-1.2M401.75 282.70v-1.2M331.20 343.63h-1.2M405.90 282.70v-1.2M331.20 347.22h-1.2M410.05 282.70v-1.2M331.20 350.80h-1.2" stroke="#777" stroke-width="0.6" fill="none"/>
<text transform="translate(334.20 277.20) scale(1.04 1)" class="tl">3</text>
<text transform="translate(322.40 285.90) rotate(90) scale(1.04 1)" class="tl">3</text>
<text transform="translate(349.20 277.20) scale(1.04 1)" class="tl">12</text>
<text transform="translate(322.40 298.70) rotate(90) scale(1.04 1)" class="tl">12</text>
<text transform="translate(361.60 277.20) scale(1.04 1)" class="tl">21</text>
<text transform="translate(322.40 309.30) rotate(90) scale(1.04 1)" class="tl">21</text>
<text transform="translate(374.00 277.20) scale(1.04 1)" class="tl">30</text>
<text transform="translate(322.40 319.90) rotate(90) scale(1.04 1)" class="tl">30</text>
<text transform="translate(386.40 277.20) scale(1.04 1)" class="tl">39</text>
<text transform="translate(322.40 330.50) rotate(90) scale(1.04 1)" class="tl">39</text>
<text transform="translate(398.80 277.20) scale(1.04 1)" class="tl">48</text>
<text transform="translate(322.40 341.10) rotate(90) scale(1.04 1)" class="tl">48</text>
<text transform="translate(411.20 277.20) scale(1.04 1)" class="tl">57</text>
<text transform="translate(322.40 351.70) rotate(90) scale(1.04 1)" class="tl">57</text>
<!-- legend -->
<rect x="438.30" y="247.50" width="13.2" height="21.2" fill="#ffffff"/>
<rect x="438.30" y="268.50" width="13.2" height="21.2" fill="#cfd8e4"/>
<rect x="438.30" y="289.50" width="13.2" height="21.2" fill="#97a9c1"/>
<rect x="438.30" y="310.50" width="13.2" height="21.2" fill="#5c7898"/>
<rect x="438.30" y="331.50" width="13.2" height="21.2" fill="#1e4374"/>
<rect x="438.30" y="247.5" width="13.2" height="105" fill="none" stroke="#555" stroke-width="0.75"/>
<path d="M437.95 247.6h13.9M437.95 352.4h13.9" stroke="#1a1a1a" stroke-width="1.3"/>
<rect x="456.10" y="247.50" width="13.2" height="21.2" fill="#ffffff"/>
<rect x="456.10" y="268.50" width="13.2" height="21.2" fill="#e0e6d4"/>
<rect x="456.10" y="289.50" width="13.2" height="21.2" fill="#b4c3a0"/>
<rect x="456.10" y="310.50" width="13.2" height="21.2" fill="#839b64"/>
<rect x="456.10" y="331.50" width="13.2" height="21.2" fill="#4d6a2c"/>
<rect x="456.10" y="247.5" width="13.2" height="105" fill="none" stroke="#555" stroke-width="0.75"/>
<path d="M455.75 247.6h13.9M455.75 352.4h13.9" stroke="#1a1a1a" stroke-width="1.3"/>
<rect x="474.20" y="247.50" width="13.2" height="21.2" fill="#ffffff"/>
<rect x="474.20" y="268.50" width="13.2" height="21.2" fill="#f2d8da"/>
<rect x="474.20" y="289.50" width="13.2" height="21.2" fill="#e0a8ab"/>
<rect x="474.20" y="310.50" width="13.2" height="21.2" fill="#cb7a7d"/>
<rect x="474.20" y="331.50" width="13.2" height="21.2" fill="#a83b3b"/>
<rect x="474.20" y="247.5" width="13.2" height="105" fill="none" stroke="#555" stroke-width="0.75"/>
<path d="M473.85 247.6h13.9M473.85 352.4h13.9" stroke="#1a1a1a" stroke-width="1.3"/>
<text class="lg" transform="translate(451.3 241.6) rotate(-90) scale(1.14 1)">JPT+CHB</text>
<text class="lg" transform="translate(464.8 241.6) rotate(-90) scale(1.14 1)">YRI</text>
<text class="lg" transform="translate(480.6 241.6) rotate(-90) scale(1.14 1)">CEU</text>
<text class="ll" x="491.3" y="263.6">N.D.</text>
<text class="ll" x="492" y="284.2">1</text>
<text class="ll" x="491.5" y="305.5">&gt;0.8</text>
<text class="ll" x="491.5" y="327">&gt;0.6</text>
<text class="ll" x="491.5" y="348.6">&gt;0.4</text>
<text class="rr" x="494.3" y="375" style="font-size:21px">r</text>
<text class="rr" x="504.6" y="365.2" style="font-size:9.5px;font-style:normal">2</text>
<text class="rr" x="499.5" y="382.2" style="font-size:11px;font-style:normal">max</text>
<!-- bottom labels -->
<text class="fb" x="61.7" y="378.5">f<tspan class="fs" dy="4">P</tspan><tspan dy="-4"> = 0</tspan></text>
<text class="fb" x="61.7" y="397">f<tspan class="fs" dy="4">N</tspan><tspan dy="-4"> = 0</tspan></text>
<text class="fb" x="201.1" y="378.5">f<tspan class="fs" dy="4">P</tspan><tspan dy="-4"> = 0.1</tspan></text>
<text class="fb" x="201.1" y="397">f<tspan class="fs" dy="4">N</tspan><tspan dy="-4"> = 0</tspan></text>
<text class="fb" x="340.8" y="378.5">f<tspan class="fs" dy="4">P</tspan><tspan dy="-4"> = 0.1</tspan></text>
<text class="fb" x="340.8" y="397">f<tspan class="fs" dy="4">N</tspan><tspan dy="-4"> = 0.05</tspan></text>
</svg>
</body></html>
